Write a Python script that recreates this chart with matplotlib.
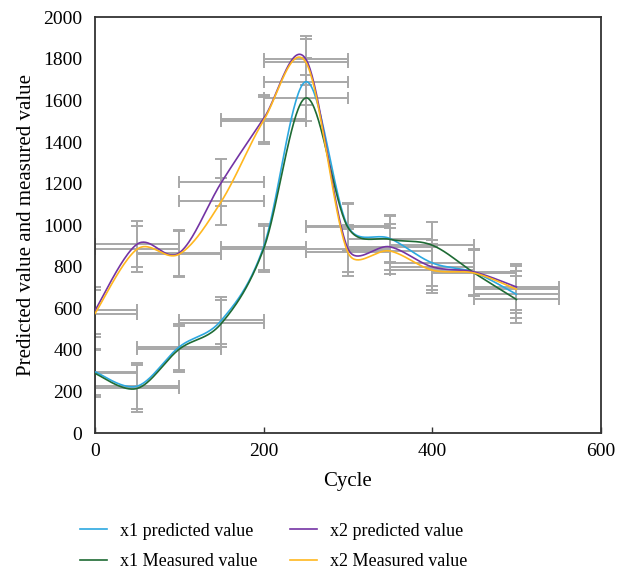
import numpy as np
import matplotlib
matplotlib.use('Agg')
import matplotlib.pyplot as plt

# data
cycle = [0, 50, 100, 150, 200, 250, 300, 350, 400, 450, 500]
x1_pred = [295, 226, 415, 543, 895, 1690, 995, 936, 819, 773, 668]
x1_meas = [287, 215, 404, 528, 885, 1612, 990, 932, 904, 770, 643]
x2_pred = [590, 909, 867, 1206, 1512, 1800, 888, 896, 800, 775, 703]
x2_meas = [575, 885, 861, 1115, 1503, 1785, 870, 876, 784, 770, 692]

labels = ["x1 predicted value", "x1 Measured value",
          "x2 predicted value", "x2 Measured value"]
colors = ["#2CA8E0", "#1E6B34", "#7434A4", "#FFB71F"]

X_ERR = 50
Y_ERR = 112

plt.rcParams['font.family'] = ['Liberation Serif', 'DejaVu Serif']


def smooth(xs, ys, sx, sy, n=40):
	# Excel-like smoothed line: bezier segments, tension 1/6,
	# control arm limited to half the segment length (in pixel space)
	p = np.column_stack([np.array(xs, float) * sx, np.array(ys, float) * sy])
	p = np.vstack([p[0], p, p[-1]])
	t = np.linspace(0, 1, n)[:, None]
	pts = []
	for i in range(1, len(p) - 2):
		p0, p1, p2, p3 = p[i - 1], p[i], p[i + 1], p[i + 2]
		d12 = np.linalg.norm(p2 - p1)
		a = (p2 - p0) / 6.0
		b = (p3 - p1) / 6.0
		la, lb = np.linalg.norm(a), np.linalg.norm(b)
		if la > 0.5 * d12:
			a = a * 0.5 * d12 / la
		if lb > 0.5 * d12:
			b = b * 0.5 * d12 / lb
		c1 = p1 + a
		c2 = p2 - b
		seg = ((1 - t) ** 3) * p1 + 3 * ((1 - t) ** 2) * t * c1 + \
		      3 * (1 - t) * t ** 2 * c2 + t ** 3 * p2
		pts.append(seg)
	pts = np.vstack(pts)
	return pts[:, 0] / sx, pts[:, 1] / sy


def main():
	fig = plt.figure(figsize=(6.29, 5.76), dpi=100)
	ax = fig.add_axes([0.151, 0.248, 0.804, 0.722])

	# pixels per data unit, used for the smoothing
	sx = 505.0 / 600
	sy = 416.0 / 2000

	series = [x1_pred, x1_meas, x2_pred, x2_meas]
	for ys in series:
		ax.errorbar(cycle, ys, xerr=X_ERR, yerr=Y_ERR, fmt='none',
		            ecolor='#A8A8A8', elinewidth=1.4, capsize=4.5,
		            capthick=1.4, zorder=2)

	handles = []
	for ys, lab, col in zip(series, labels, colors):
		cx, cy = smooth(cycle, ys, sx, sy)
		h, = ax.plot(cx, cy, color=col, lw=1.2, label=lab, zorder=3)
		handles.append(h)

	ax.set_xlim(0, 600)
	ax.set_ylim(0, 2000)
	ax.set_xticks([0, 200, 400, 600])
	ax.set_yticks(range(0, 2001, 200))
	ax.tick_params(axis='x', direction='in', length=4, width=1, labelsize=14,
	               pad=7, color='#333333')
	ax.tick_params(axis='y', length=0, labelsize=14, pad=9)
	for s in ax.spines.values():
		s.set_color('#333333')
		s.set_linewidth(1.3)
	ax.set_xlabel('Cycle', fontsize=15, labelpad=9)
	ax.set_ylabel('Predicted value and measured value', fontsize=15, labelpad=5)

	fig.legend(handles=handles, labels=labels, ncol=2, loc='upper left',
	           bbox_to_anchor=(0.102, 0.121), frameon=False, fontsize=13,
	           handlelength=1.5, columnspacing=1.8, handletextpad=0.7,
	           labelspacing=0.75)

	fig.savefig('out.png', dpi=100)


if __name__ == "__main__":
	main()
